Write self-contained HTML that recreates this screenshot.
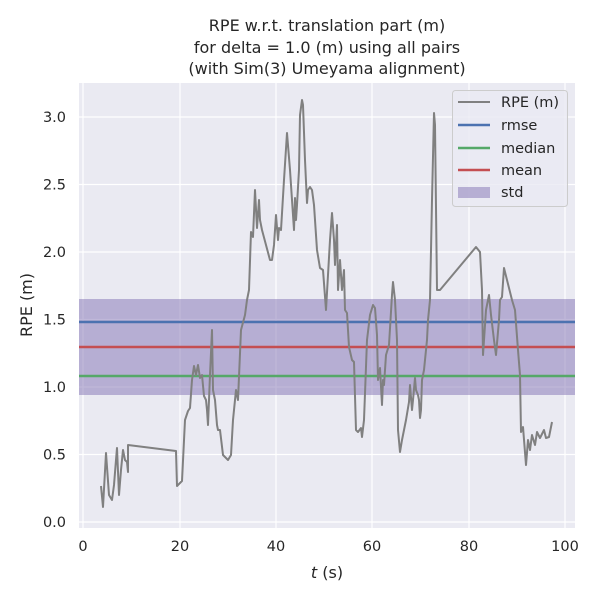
<!DOCTYPE html>
<html><head><meta charset="utf-8"><style>
body{margin:0;background:#fff;}
svg text{font-family:"DejaVu Sans","Liberation Sans",sans-serif;fill:#262626;}
</style></head><body>
<svg width="600" height="600" viewBox="0 0 600 600" xmlns="http://www.w3.org/2000/svg">
<rect width="600" height="600" fill="#fff"/>
<rect x="79" y="83" width="496" height="445" fill="#eaeaf2"/>
<g stroke="#fff" stroke-width="1.2">
<line x1="83" y1="83" x2="83" y2="528"/><line x1="180" y1="83" x2="180" y2="528"/><line x1="276" y1="83" x2="276" y2="528"/><line x1="372" y1="83" x2="372" y2="528"/><line x1="469" y1="83" x2="469" y2="528"/><line x1="565" y1="83" x2="565" y2="528"/>
<line x1="79" y1="522" x2="575" y2="522"/><line x1="79" y1="454.5" x2="575" y2="454.5"/><line x1="79" y1="387" x2="575" y2="387"/><line x1="79" y1="319.5" x2="575" y2="319.5"/><line x1="79" y1="252" x2="575" y2="252"/><line x1="79" y1="184.5" x2="575" y2="184.5"/><line x1="79" y1="117" x2="575" y2="117"/>
</g>
<rect x="79" y="299" width="496" height="96" fill="#8172b3" fill-opacity="0.5"/>
<line x1="79" y1="322" x2="575" y2="322" stroke="#4c72b0" stroke-width="2.5"/>
<line x1="79" y1="347" x2="575" y2="347" stroke="#c44e52" stroke-width="2.5"/>
<line x1="79" y1="376" x2="575" y2="376" stroke="#55a868" stroke-width="2.5"/>
<polyline fill="none" stroke="#808080" stroke-width="2" stroke-linejoin="round" points="101,486 103,507 106,453 109,495 112,500 114,485 116,460 117,448 119,495 121,470 123,450 125,460 127,462 128,472 128,445 176,451 177,486 182,481 185,420 188,411 190,408 192,380 194,366 196,375 198,365 200,378 202,375 204,396 206,400 207,410 208,425 210,375 212,330 213,390 215,400 217,425 218,430 220,430 223,455 228,460 231,455 233,420 235,400 236,390 238,400 241,330 245,315 247,300 249,290 251,232 253,237 255,190 257,228 259,200 260,220 262,230 266,245 270,260 272,260 274,245 276,215 278,240 279,228 281,230 284,180 287,133 290,170 292,200 294,230 295,198 296,220 297,205 299,170 300,115 302,100 303,105 305,160 307,203 308,190 310,187 312,190 314,205 317,250 320,268 323,270 326,310 328,275 330,240 332,213 334,240 335,265 337,225 338,290 340,260 342,290 344,270 345,310 347,313 349,347 352,360 354,362 356,430 358,432 361,428 362,437 364,420 367,340 370,315 373,305 375,308 377,335 378,380 380,368 382,405 383,380 384,385 386,355 389,345 392,295 393,282 395,300 397,340 398,430 400,452 402,440 404,430 406,420 409,402 410,385 412,410 413,400 415,378 416,390 418,395 419,400 420,418 421,410 422,380 424,370 427,340 428,320 430,300 432,200 434,113 435,125 437,290 440,290 476,247 480,252 482,290 483,355 486,310 489,295 491,315 494,340 496,355 499,320 500,300 502,297 504,268 507,280 512,300 515,310 518,350 520,375 521,432 523,427 526,465 528,440 530,450 532,435 535,445 537,432 540,438 542,434 544,430 546,438 549,437 552,422"/>
<g font-size="14.5" text-anchor="end">
<text x="66" y="527">0.0</text><text x="66" y="459.5">0.5</text><text x="66" y="392">1.0</text><text x="66" y="324.5">1.5</text><text x="66" y="257">2.0</text><text x="66" y="189.5">2.5</text><text x="66" y="122">3.0</text>
</g>
<g font-size="14.5" text-anchor="middle">
<text x="83" y="551">0</text><text x="180" y="551">20</text><text x="276" y="551">40</text><text x="372" y="551">60</text><text x="469" y="551">80</text><text x="565" y="551">100</text>
<text x="327" y="578" font-size="16"><tspan font-style="italic">t</tspan> (s)</text>
<text x="327" y="31" font-size="16">RPE w.r.t. translation part (m)</text>
<text x="327" y="53" font-size="16">for delta = 1.0 (m) using all pairs</text>
<text x="327" y="74" font-size="16">(with Sim(3) Umeyama alignment)</text>
</g>
<text transform="translate(32,305) rotate(-90)" font-size="16" text-anchor="middle">RPE (m)</text>
<rect x="452.5" y="90.5" width="115" height="116" rx="3" fill="#eaeaf2" fill-opacity="0.8" stroke="#cccccc"/>
<line x1="458" y1="102" x2="490" y2="102" stroke="#808080" stroke-width="2"/>
<line x1="458" y1="125" x2="490" y2="125" stroke="#4c72b0" stroke-width="2.5"/>
<line x1="458" y1="148" x2="490" y2="148" stroke="#55a868" stroke-width="2.5"/>
<line x1="458" y1="170" x2="490" y2="170" stroke="#c44e52" stroke-width="2.5"/>
<rect x="458" y="187" width="32" height="11" fill="#8172b3" fill-opacity="0.5"/>
<g font-size="14.5">
<text x="501" y="107">RPE (m)</text><text x="501" y="130">rmse</text><text x="501" y="153">median</text><text x="501" y="175">mean</text><text x="501" y="197">std</text>
</g>
</svg>
</body></html>
